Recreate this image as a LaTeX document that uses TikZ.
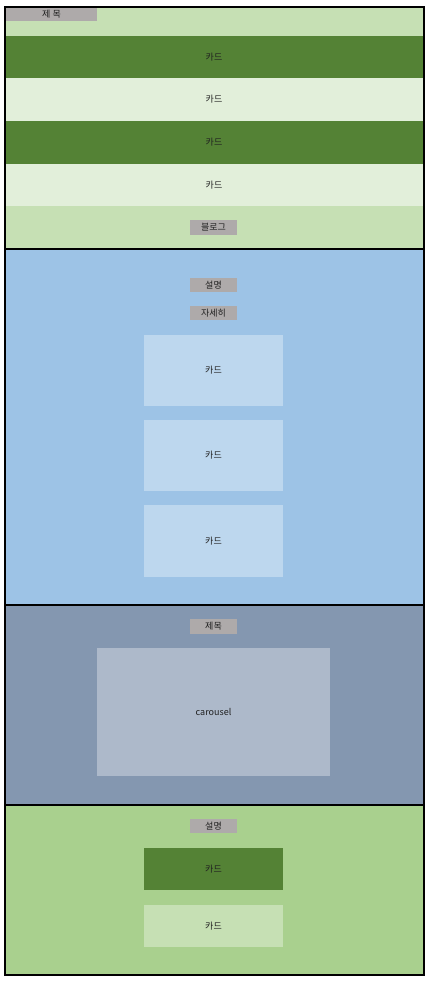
\documentclass[tikz,border=0pt]{standalone}
\usepackage{fontspec}
\newfontfamily\kr{Noto Sans CJK KR}
\definecolor{lg}{HTML}{C6E0B4}
\definecolor{dg}{HTML}{548235}
\definecolor{pg}{HTML}{E2EFDA}
\definecolor{bl}{HTML}{9DC3E6}
\definecolor{lb}{HTML}{BDD7EE}
\definecolor{sl}{HTML}{8497B0}
\definecolor{ls}{HTML}{ADB9CA}
\definecolor{mg}{HTML}{A9D08E}
\definecolor{gr}{HTML}{AEAAAA}
\definecolor{tx}{HTML}{202020}
\tikzset{
  lbl/.style={font=\kr\fontsize{9}{10}\selectfont, text=tx, inner sep=0pt},
  sep/.style={line width=2pt, black}
}
\begin{document}
\begin{tikzpicture}[x=1pt,y=-1pt]
\useasboundingbox (0,0) rectangle (428,981);
\fill[white] (0,0) rectangle (428,981);
% section 1
\fill[lg] (5,8) rectangle (424,36);
\fill[dg] (5,36) rectangle (424,78);
\fill[pg] (5,78) rectangle (424,121);
\fill[dg] (5,121) rectangle (424,164);
\fill[pg] (5,164) rectangle (424,206);
\fill[lg] (5,206) rectangle (424,249);
\fill[gr] (6,8) rectangle (97,21);
\node[lbl] (t1) at (51.5,14.5) {제 목};
\node[lbl] (c1) at (214,57) {카드};
\node[lbl] (c2) at (214,99.5) {카드};
\node[lbl] (c3) at (214,142.5) {카드};
\node[lbl] (c4) at (214,185) {카드};
\fill[gr] (190,220) rectangle (237,235);
\node[lbl] (blog) at (213.5,227.5) {블로그};
% section 2
\fill[bl] (5,249) rectangle (424,605);
\fill[gr] (190,278) rectangle (237,292);
\node[lbl] (d1) at (213.5,285) {설명};
\fill[gr] (190,306) rectangle (237,320);
\node[lbl] (more) at (213.5,313) {자세히};
\fill[lb] (144,335) rectangle (283,406);
\node[lbl] (b1) at (213.5,370.5) {카드};
\fill[lb] (144,420) rectangle (283,491);
\node[lbl] (b2) at (213.5,455.5) {카드};
\fill[lb] (144,505) rectangle (283,577);
\node[lbl] (b3) at (213.5,541) {카드};
% section 3
\fill[sl] (5,605) rectangle (424,805);
\fill[gr] (190,619) rectangle (237,634);
\node[lbl] (t2) at (213.5,626.5) {제목};
\fill[ls] (97,648) rectangle (330,776);
\node[lbl] (car) at (213.5,712) {carousel};
% section 4
\fill[mg] (5,805) rectangle (424,975);
\fill[gr] (190,819) rectangle (237,833);
\node[lbl] (d2) at (213.5,826) {설명};
\fill[dg] (144,848) rectangle (283,890);
\node[lbl] (g1) at (213.5,869) {카드};
\fill[lg] (144,905) rectangle (283,947);
\node[lbl] (g2) at (213.5,926) {카드};
% lines
\draw[sep] (5,249) -- (424,249);
\draw[sep] (5,605) -- (424,605);
\draw[sep] (5,805) -- (424,805);
\draw[sep] (5,7) rectangle (424,975);
\end{tikzpicture}
\end{document}
